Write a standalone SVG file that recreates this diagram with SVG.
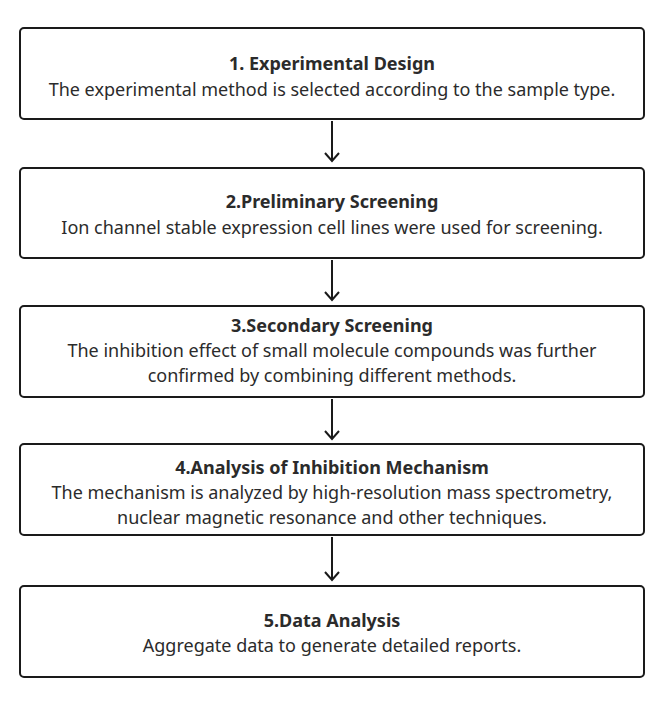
<svg xmlns="http://www.w3.org/2000/svg" width="655" height="707" viewBox="0 0 655 707">
<style>
.box{fill:#fff;stroke:#1a1a1a;stroke-width:2}
.t{font-family:"Source Sans Pro","Noto Sans","Liberation Sans",sans-serif;font-size:18px;fill:#2b2b2b;text-anchor:middle}
.b{font-weight:bold}
.c{stroke:#1a1a1a;stroke-width:2;fill:none}
</style>
<rect width="655" height="707" fill="#fff"/>
<g id="connectors">
<path class="c" d="M332 121 V161"/><path class="c" d="M325 153 L332 161 L339 153"/>
<path class="c" d="M332 260 V300"/><path class="c" d="M325 292 L332 300 L339 292"/>
<path class="c" d="M332 399 V439"/><path class="c" d="M325 431 L332 439 L339 431"/>
<path class="c" d="M332 537 V580"/><path class="c" d="M325 572 L332 580 L339 572"/>
</g>
<g id="n1">
<rect class="box" x="20" y="28" width="624" height="91" rx="4"/>
<text class="t b" x="332" y="70">1. Experimental Design</text>
<text class="t" x="332" y="96">The experimental method is selected according to the sample type.</text>
</g>
<g id="n2">
<rect class="box" x="20" y="168" width="624" height="90" rx="4"/>
<text class="t b" x="332" y="208">2.Preliminary Screening</text>
<text class="t" x="332" y="234">Ion channel stable expression cell lines were used for screening.</text>
</g>
<g id="n3">
<rect class="box" x="20" y="306" width="624" height="91" rx="4"/>
<text class="t b" x="332" y="332">3.Secondary Screening</text>
<text class="t" x="332" y="357">The inhibition effect of small molecule compounds was further</text>
<text class="t" x="332" y="382">confirmed by combining different methods.</text>
</g>
<g id="n4">
<rect class="box" x="20" y="444" width="624" height="91" rx="4"/>
<text class="t b" x="332" y="474">4.Analysis of Inhibition Mechanism</text>
<text class="t" x="332" y="499">The mechanism is analyzed by high-resolution mass spectrometry,</text>
<text class="t" x="332" y="524">nuclear magnetic resonance and other techniques.</text>
</g>
<g id="n5">
<rect class="box" x="20" y="586" width="624" height="91" rx="4"/>
<text class="t b" x="332" y="627">5.Data Analysis</text>
<text class="t" x="332" y="652">Aggregate data to generate detailed reports.</text>
</g>
</svg>
